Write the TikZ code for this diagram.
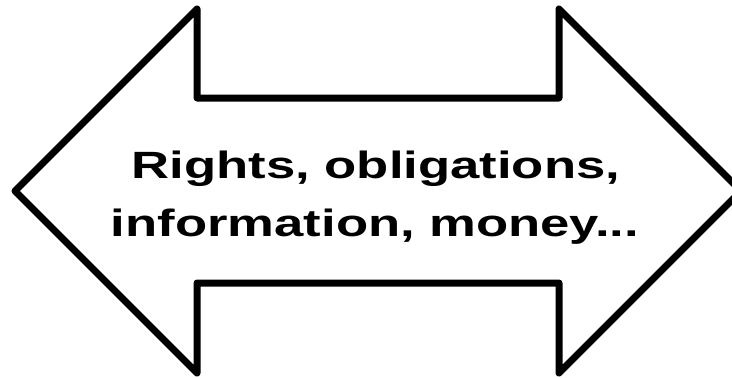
\documentclass[tikz,border=0pt]{standalone}
\usepackage{fontspec}
\setmainfont{Liberation Sans}
\begin{document}
\begin{tikzpicture}[x=1pt,y=-1pt,
  outline/.style={draw=black,line width=7pt,line join=round,fill=white},
  caption/.style={font=\fontsize{38}{46}\selectfont\bfseries,anchor=base,inner sep=0pt}]
\useasboundingbox (0,0) rectangle (732,378);
\fill[white] (0,0) rectangle (732,378);
% double-headed block arrow
\begin{scope}
\clip (0,0) rectangle (732,378);
\draw[outline] (15,191) -- (197,9) -- (197,98) -- (559,98) -- (559,9)
  -- (741,191) -- (559,373) -- (559,283) -- (197,283) -- (197,373) -- cycle;
\end{scope}
% wide lettering
\node[caption] (line1) at (376,178) {\scalebox{1.385}[1]{Rights, obligations,}};
\node[caption] (line2) at (375,236) {\scalebox{1.385}[1]{information, money...}};
\end{tikzpicture}
\end{document}
